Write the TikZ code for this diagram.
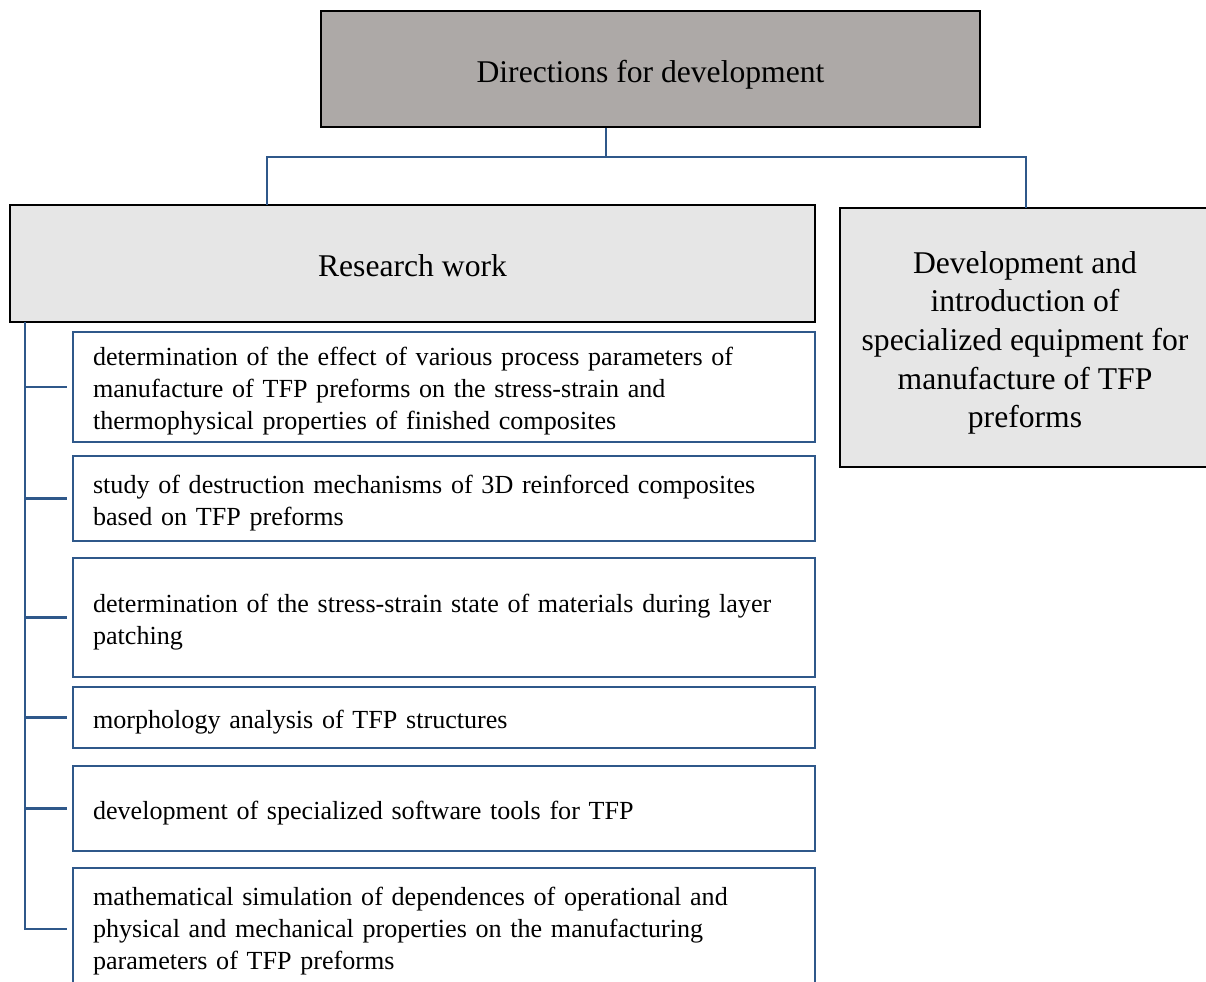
\documentclass[tikz,border=0pt]{standalone}
\usepackage{fontspec}
\setmainfont{Liberation Serif}
\definecolor{lineblue}{RGB}{47,88,138}
\definecolor{topgray}{RGB}{173,169,167}
\definecolor{lightgray}{RGB}{230,230,230}
\begin{document}
\begin{tikzpicture}[x=0.02cm,y=-0.02cm,
  headbox/.style={draw=black,line width=1.1pt,inner sep=0pt},
  headtext/.style={align=center,inner sep=0pt,font=\fontsize{18}{22}\selectfont},
  itembox/.style={draw=lineblue,line width=1.1pt,minimum width=14.84cm,inner sep=0pt},
  itemtext/.style={text width=14.04cm,inner sep=0pt,yshift=-0.09cm,align=left,font=\fontsize{14.85}{18.2}\selectfont},
  conn/.style={draw=lineblue,line width=1.2pt}]
\useasboundingbox (0,0) rectangle (1206,981);
% head boxes
\node[headbox,fill=topgray,minimum width=13.18cm,minimum height=2.32cm,
  label={[headtext,yshift=-0.12cm]center:{Directions for development}}] (top) at (650.5,69) {};
\node[headbox,fill=lightgray,minimum width=16.1cm,minimum height=2.34cm,
  label={[headtext,yshift=-0.04cm]center:{Research work}}] (research) at (412.5,263.5) {};
\node[headbox,fill=lightgray,minimum width=7.4cm,minimum height=5.18cm,
  label={[headtext,yshift=-0.11cm]center:{Development and\\introduction of\\specialized equipment for\\manufacture of TFP\\preforms}}] (equip) at (1025,337.5) {};
% item boxes
\node[itembox,minimum height=2.2cm,label={[itemtext]center:{determination of the effect of various process parameters of\\manufacture of TFP preforms on the stress-strain and\\thermophysical properties of finished composites}}] (b1) at (444,387) {};
\node[itembox,minimum height=1.7cm,label={[itemtext]center:{study of destruction mechanisms of 3D reinforced composites\\based on TFP preforms}}] (b2) at (444,498.5) {};
\node[itembox,minimum height=2.38cm,label={[itemtext]center:{determination of the stress-strain state of materials during layer\\patching}}] (b3) at (444,617.5) {};
\node[itembox,minimum height=1.22cm,label={[itemtext]center:{morphology analysis of TFP structures}}] (b4) at (444,717.5) {};
\node[itembox,minimum height=1.7cm,label={[itemtext]center:{development of specialized software tools for TFP}}] (b5) at (444,808.5) {};
\node[itembox,minimum height=2.44cm,label={[itemtext,yshift=0.05cm]center:{mathematical simulation of dependences of operational and\\physical and mechanical properties on the manufacturing\\parameters of TFP preforms}}] (b6) at (444,929) {};
% connectors from the top box
\coordinate (j) at (606,157);
\coordinate (rl) at (267,205);
\coordinate (rr) at (1026,208);
\draw[conn] (top.south -| j) -- (j);
\draw[conn] (rl) |- (j) -| (rr);
% spine
\coordinate (s0) at (25,322);
\draw[conn] (s0) |- ([xshift=-0.1cm]b6.west);
\foreach \bx in {b1,b2,b3,b4,b5}{
  \draw[conn] (\bx.west -| s0) -- ([xshift=-0.1cm]\bx.west);
}
\end{tikzpicture}
\end{document}
